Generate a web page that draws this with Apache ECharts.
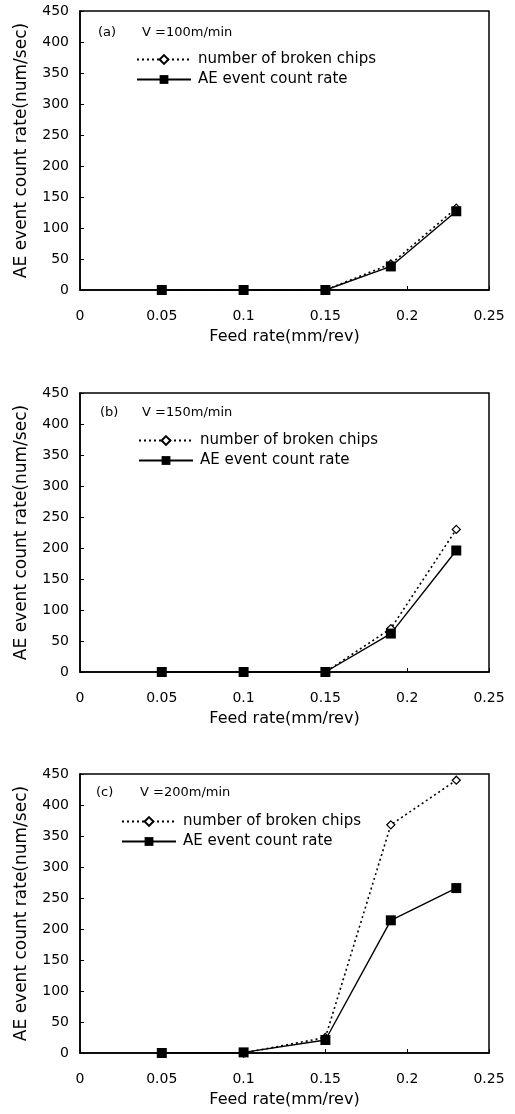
<!DOCTYPE html>
<html>
<head>
<meta charset="utf-8">
<script src="https://cdn.jsdelivr.net/npm/echarts@6/dist/echarts.min.js"></script>
<style>
html,body{margin:0;padding:0;background:#fff;}
#chart{width:515px;height:1114px;}
</style>
</head>
<body>
<div id="chart"></div>
<script>
// ---- data ----
const feedRates = [0.05, 0.1, 0.15, 0.19, 0.23];
const xTicks = [0, 0.05, 0.1, 0.15, 0.2, 0.25];
const yTicks = [0, 50, 100, 150, 200, 250, 300, 350, 400, 450];
const seriesNames = ['number of broken chips', 'AE event count rate'];
const panelLabels = ['(a)', '(b)', '(c)'];
const speedLabels = ['V =100m/min', 'V =150m/min', 'V =200m/min'];
const chipsA = [0, 0, 0, 42, 132];
const aeA    = [0, 0, 0, 38, 127];
const chipsB = [0, 0, 0, 70, 230];
const aeB    = [0, 0, 0, 62, 196];
const chipsC = [0, 0, 25, 368, 440];
const aeC    = [0, 1, 21, 214, 266];
const xName = 'Feed rate(mm/rev)';
const yName = 'AE event count rate(num/sec)';

// ---- layout ----
const FONT = 'DejaVu Sans';
const gridTops = [11, 393, 774];
const gridH = 279;
const legendPos = [{left: 136, top: 52}, {left: 138, top: 433}, {left: 121, top: 814}];
const annotPos = [{lx: 98, vx: 142, y: 26}, {lx: 100, vx: 142, y: 406}, {lx: 96, vx: 140, y: 786}];
const panels = [[chipsA, aeA], [chipsB, aeB], [chipsC, aeC]];

const grids = [], xAxes = [], yAxes = [], series = [], legends = [], graphics = [];
panels.forEach((p, i) => {
  grids.push({left: 80, right: 26, top: gridTops[i], height: gridH, show: true,
    borderColor: '#000', borderWidth: 1.5, backgroundColor: '#fff'});
  xAxes.push({
    type: 'value', gridIndex: i, min: xTicks[0], max: xTicks[xTicks.length - 1],
    interval: xTicks[1] - xTicks[0],
    name: xName, nameLocation: 'middle', nameGap: 39,
    nameTextStyle: {fontFamily: FONT, fontSize: 16, color: '#000'},
    axisLine: {show: true, lineStyle: {color: '#000', width: 1.5}},
    axisTick: {show: true, inside: true, length: 4, lineStyle: {color: '#000'}},
    axisLabel: {fontFamily: FONT, fontSize: 14, color: '#000', margin: 19,
      formatter: v => String(parseFloat(v.toFixed(2)))},
    splitLine: {show: false}
  });
  yAxes.push({
    type: 'value', gridIndex: i, min: yTicks[0], max: yTicks[yTicks.length - 1],
    interval: yTicks[1] - yTicks[0],
    name: yName, nameLocation: 'middle', nameGap: 50,
    nameTextStyle: {fontFamily: FONT, fontSize: 17, color: '#000'},
    axisLine: {show: true, lineStyle: {color: '#000', width: 1.5}},
    axisTick: {show: true, inside: true, length: 4, lineStyle: {color: '#000'}},
    axisLabel: {fontFamily: FONT, fontSize: 14, color: '#000', margin: 11},
    splitLine: {show: false}
  });
  series.push({
    name: seriesNames[0], type: 'line', xAxisIndex: i, yAxisIndex: i,
    data: feedRates.map((x, k) => [x, p[0][k]]),
    symbol: 'diamond', symbolSize: 8, showAllSymbol: true,
    lineStyle: {color: '#000', width: 1.6, type: [2, 3]},
    itemStyle: {color: '#fff', borderColor: '#000', borderWidth: 1.3},
    emphasis: {disabled: true}, animation: false
  });
  series.push({
    name: seriesNames[1], type: 'line', xAxisIndex: i, yAxisIndex: i,
    data: feedRates.map((x, k) => [x, p[1][k]]),
    symbol: 'rect', symbolSize: 10, showAllSymbol: true,
    lineStyle: {color: '#000', width: 1.4, type: 'solid'},
    itemStyle: {color: '#000', borderColor: '#000', borderWidth: 0},
    emphasis: {disabled: true}, animation: false
  });
  legends.push({
    data: seriesNames, orient: 'vertical', left: legendPos[i].left, top: legendPos[i].top,
    itemWidth: 54, itemHeight: 11, itemGap: 5, padding: 0, selectedMode: false,
    textStyle: {fontFamily: FONT, fontSize: 15, color: '#000', padding: [0, 0, 0, 2]}
  });
  graphics.push({type: 'text', left: annotPos[i].lx, top: annotPos[i].y,
    style: {text: panelLabels[i], fontFamily: FONT, fontSize: 13, fill: '#000'}});
  graphics.push({type: 'text', left: annotPos[i].vx, top: annotPos[i].y,
    style: {text: speedLabels[i], fontFamily: FONT, fontSize: 13, fill: '#000'}});
});

const chart = echarts.init(document.getElementById('chart'), null, {renderer: 'canvas'});
chart.setOption({
  backgroundColor: '#fff',
  animation: false,
  grid: grids, xAxis: xAxes, yAxis: yAxes, series: series,
  legend: legends, graphic: graphics
});
</script>
</body>
</html>
